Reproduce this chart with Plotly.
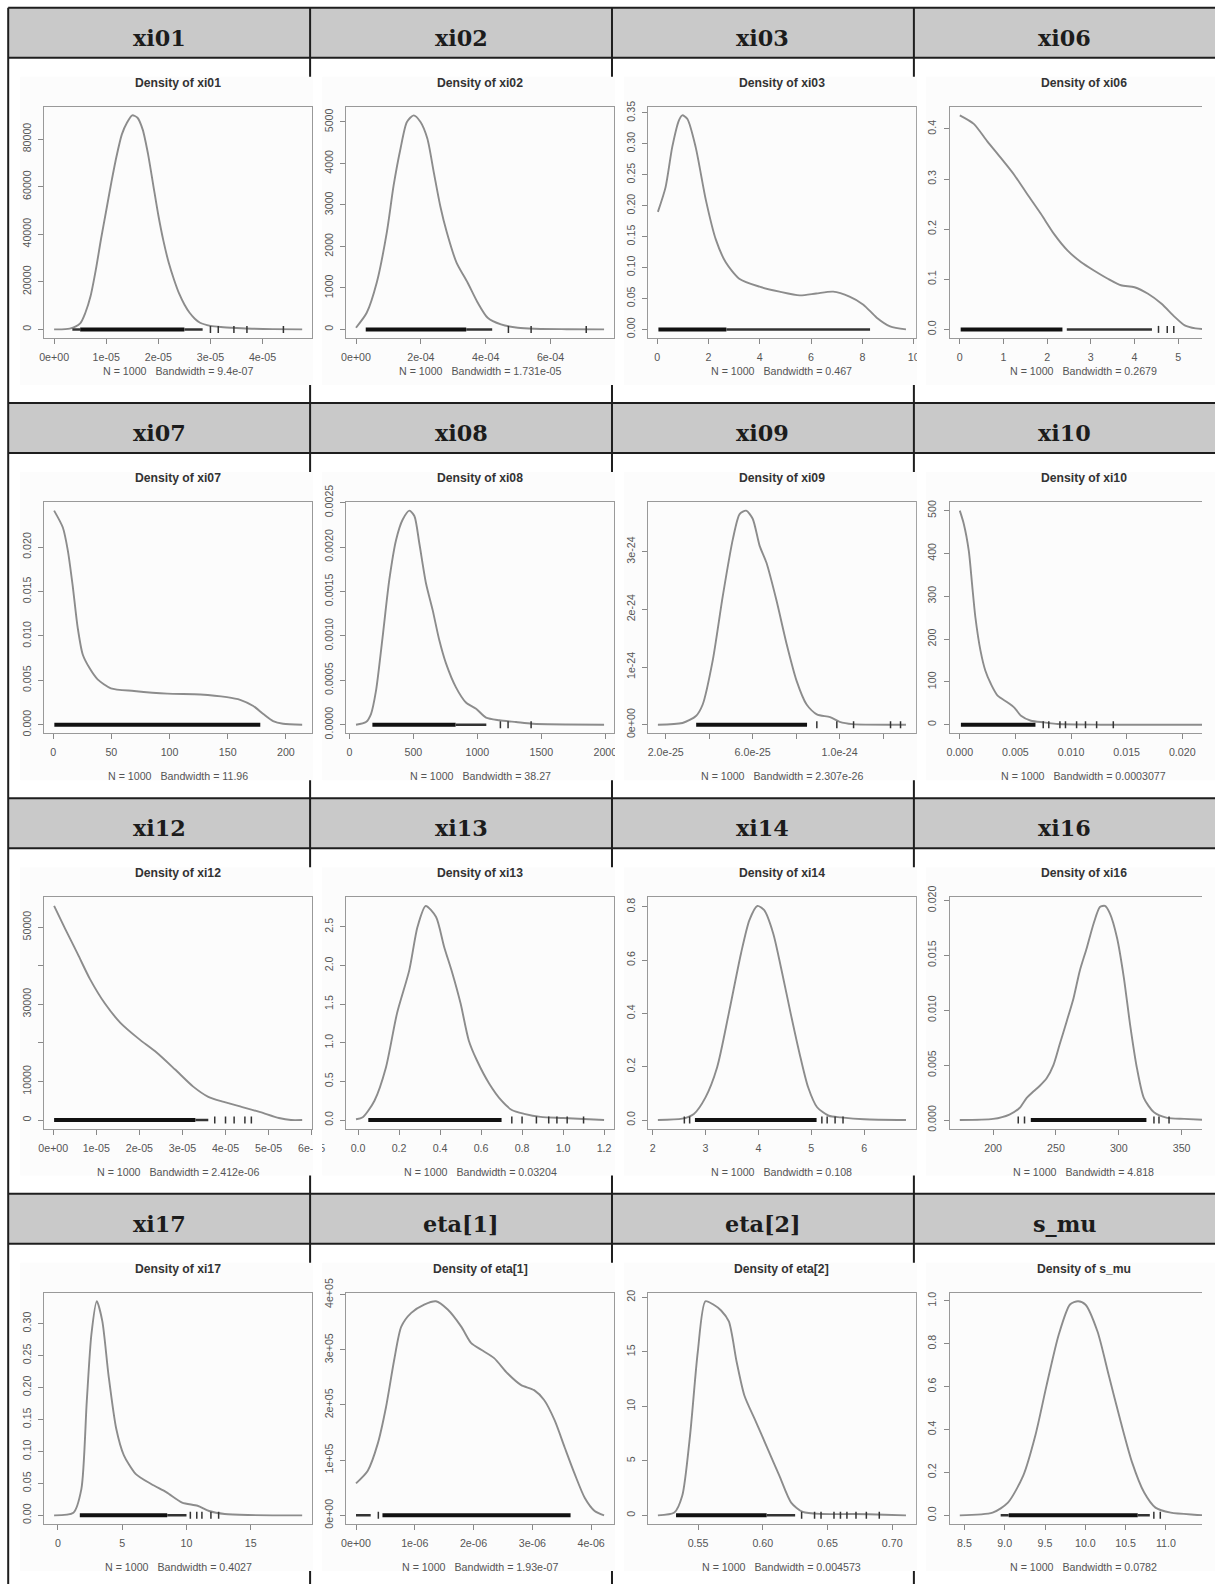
import plotly.graph_objects as go

# 4 x 4 table of R density plots (coda densplot style)
names = ["xi01", "xi02", "xi03", "xi06",
         "xi07", "xi08", "xi09", "xi10",
         "xi12", "xi13", "xi14", "xi16",
         "xi17", "eta[1]", "eta[2]", "s_mu"]

bandwidths = ["9.4e-07", "1.731e-05", "0.467", "0.2679",
              "11.96", "38.27", "2.307e-26", "0.0003077",
              "2.412e-06", "0.03204", "0.108", "4.818",
              "0.4027", "1.93e-07", "0.004573", "0.0782"]

# ---- xi01
xi01_x = [0.0, 3e-6, 5e-6, 6e-6, 7e-6, 8e-6, 9e-6, 1.0e-5, 1.1e-5, 1.2e-5, 1.3e-5, 1.4e-5, 1.5e-5, 1.6e-5,
          1.7e-5, 1.8e-5, 1.9e-5, 2.0e-5, 2.1e-5, 2.2e-5, 2.3e-5, 2.4e-5, 2.5e-5, 2.6e-5, 2.7e-5, 2.8e-5,
          3.0e-5, 3.2e-5, 3.5e-5, 3.8e-5, 4.2e-5, 4.76e-5]
xi01_y = [0, 300, 2500, 7000, 14000, 25000, 38000, 50000, 62000, 73000, 82000, 87000, 90000, 89000,
          84000, 74000, 61000, 48000, 37000, 28000, 21000, 15000, 10500, 7000, 4500, 2800,
          1500, 1000, 600, 300, 100, 0]
xi01_xticks = [0, 1e-5, 2e-5, 3e-5, 4e-5]
xi01_xlabels = ["0e+00", "1e-05", "2e-05", "3e-05", "4e-05"]
xi01_yticks = [0, 20000, 40000, 60000, 80000]
xi01_ylabels = ["0", "20000", "40000", "60000", "80000"]
xi01_band = [(5e-6, 2.5e-5)]
xi01_thin = [(3.5e-6, 5e-6), (2.5e-5, 2.85e-5)]
xi01_obs = [3.0e-5, 3.15e-5, 3.45e-5, 3.7e-5, 4.4e-5]

# ---- xi02
xi02_x = [0.0, 0.33e-4, 0.64e-4, 0.95e-4, 1.16e-4, 1.37e-4, 1.57e-4, 1.78e-4, 1.99e-4, 2.2e-4, 2.4e-4,
          2.6e-4, 2.8e-4, 3.1e-4, 3.44e-4, 3.75e-4, 4.06e-4, 4.47e-4, 4.99e-4, 5.5e-4, 6.5e-4, 7.65e-4]
xi02_y = [40, 400, 1130, 2340, 3470, 4350, 5000, 5160, 5000, 4600, 3780,
          2970, 2340, 1610, 1130, 650, 280, 120, 40, 15, 5, 0]
xi02_xticks = [0, 2e-4, 4e-4, 6e-4]
xi02_xlabels = ["0e+00", "2e-04", "4e-04", "6e-04"]
xi02_yticks = [0, 1000, 2000, 3000, 4000, 5000]
xi02_ylabels = ["0", "1000", "2000", "3000", "4000", "5000"]
xi02_band = [(0.3e-4, 3.4e-4)]
xi02_thin = [(3.4e-4, 4.2e-4)]
xi02_obs = [4.7e-4, 5.4e-4, 7.1e-4]

# ---- xi03
xi03_x = [0.03, 0.33, 0.59, 0.85, 0.98, 1.18, 1.5, 1.9, 2.29, 2.68, 3.2, 3.99, 4.77, 5.56, 6.2, 6.86,
          7.5, 8.04, 8.56, 9.08, 9.7]
xi03_y = [0.19, 0.23, 0.295, 0.338, 0.346, 0.34, 0.295, 0.209, 0.145, 0.108, 0.082, 0.069, 0.061, 0.055,
          0.058, 0.061, 0.053, 0.04, 0.019, 0.005, 0.0]
xi03_xticks = [0, 2, 4, 6, 8, 10]
xi03_xlabels = ["0", "2", "4", "6", "8", "10"]
xi03_yticks = [0, 0.05, 0.10, 0.15, 0.20, 0.25, 0.30, 0.35]
xi03_ylabels = ["0.00", "0.05", "0.10", "0.15", "0.20", "0.25", "0.30", "0.35"]
xi03_band = [(0.05, 2.7)]
xi03_thin = [(2.7, 8.3)]
xi03_obs = []

# ---- xi06
xi06_x = [0.0, 0.32, 0.63, 0.94, 1.24, 1.55, 1.86, 2.16, 2.47, 2.78, 3.08, 3.39, 3.69, 4.0, 4.31, 4.62,
          4.92, 5.15, 5.4, 5.68]
xi06_y = [0.427, 0.41, 0.375, 0.342, 0.309, 0.269, 0.23, 0.19, 0.157, 0.134, 0.117, 0.101, 0.088, 0.084,
          0.071, 0.051, 0.025, 0.008, 0.002, 0.0]
xi06_xticks = [0, 1, 2, 3, 4, 5]
xi06_xlabels = ["0", "1", "2", "3", "4", "5"]
xi06_yticks = [0, 0.1, 0.2, 0.3, 0.4]
xi06_ylabels = ["0.0", "0.1", "0.2", "0.3", "0.4"]
xi06_band = [(0.02, 2.35)]
xi06_thin = [(2.45, 4.4)]
xi06_obs = [4.55, 4.75, 4.9]

# ---- xi07
xi07_x = [0.8, 8.3, 12.6, 16.9, 21.1, 25.4, 31.1, 38.2, 49.6, 69.5, 98, 126.5, 149.3, 160.7, 172, 180.6,
          189, 197.6, 214]
xi07_y = [0.0241, 0.0222, 0.0196, 0.0155, 0.0109, 0.0079, 0.0064, 0.0051, 0.0041, 0.0038, 0.0035, 0.0034,
          0.0031, 0.0028, 0.0021, 0.0012, 0.0004, 0.0001, 0.0]
xi07_xticks = [0, 50, 100, 150, 200]
xi07_xlabels = ["0", "50", "100", "150", "200"]
xi07_yticks = [0, 0.005, 0.010, 0.015, 0.020]
xi07_ylabels = ["0.000", "0.005", "0.010", "0.015", "0.020"]
xi07_band = [(1, 178)]
xi07_thin = []
xi07_obs = []

# ---- xi08
xi08_x = [52, 130, 169, 208, 260, 312, 365, 417, 469, 508, 547, 599, 651, 703, 755, 833, 911, 990, 1068,
          1172, 1302, 1432, 1990]
xi08_y = [0, 0.00003, 0.00012, 0.00038, 0.00099, 0.00163, 0.00208, 0.00231, 0.00241, 0.00235, 0.00204,
          0.00159, 0.00129, 0.00095, 0.00069, 0.00042, 0.00025, 0.00018, 0.00008, 0.00005, 0.00003,
          0.00001, 0.0]
xi08_xticks = [0, 500, 1000, 1500, 2000]
xi08_xlabels = ["0", "500", "1000", "1500", "2000"]
xi08_yticks = [0, 0.0005, 0.0010, 0.0015, 0.0020, 0.0025]
xi08_ylabels = ["0.0000", "0.0005", "0.0010", "0.0015", "0.0020", "0.0025"]
xi08_band = [(180, 830)]
xi08_thin = [(830, 1070)]
xi08_obs = [1180, 1240, 1420]

# ---- xi09
xi09_x = [1.64e-25, 2.77e-25, 3.39e-25, 3.7e-25, 4.16e-25, 4.62e-25, 5.09e-25, 5.4e-25, 5.7e-25, 6.0e-25,
          6.32e-25, 6.63e-25, 7.09e-25, 7.56e-25, 8.02e-25, 8.48e-25, 8.95e-25, 9.56e-25, 1.0e-24,
          1.06e-24, 1.305e-24]
xi09_y = [0, 0.03e-24, 0.15e-24, 0.35e-24, 1.11e-24, 2.22e-24, 3.22e-24, 3.65e-24, 3.71e-24, 3.57e-24,
          3.1e-24, 2.81e-24, 2.16e-24, 1.4e-24, 0.76e-24, 0.35e-24, 0.18e-24, 0.13e-24, 0.05e-24,
          0.01e-24, 0]
xi09_xticks = [2e-25, 4e-25, 6e-25, 8e-25, 1e-24, 1.2e-24]
xi09_xlabels = ["2.0e-25", "", "6.0e-25", "", "1.0e-24", ""]
xi09_yticks = [0, 1e-24, 2e-24, 3e-24]
xi09_ylabels = ["0e+00", "1e-24", "2e-24", "3e-24"]
xi09_band = [(3.4e-25, 8.5e-25)]
xi09_thin = []
xi09_obs = [8.95e-25, 9.87e-25, 1.064e-24, 1.234e-24, 1.28e-24]

# ---- xi10
xi10_x = [0.0, 0.00036, 0.00081, 0.0011, 0.0014, 0.00186, 0.0023, 0.0028, 0.0034, 0.0043, 0.0049, 0.0055,
          0.0064, 0.0076, 0.0088, 0.0127, 0.0223]
xi10_y = [500, 469, 406, 329, 251, 173, 126, 95, 68, 52, 40, 21, 9.3, 5.5, 1.6, 0, 0]
xi10_xticks = [0, 0.005, 0.010, 0.015, 0.020]
xi10_xlabels = ["0.000", "0.005", "0.010", "0.015", "0.020"]
xi10_yticks = [0, 100, 200, 300, 400, 500]
xi10_ylabels = ["0", "100", "200", "300", "400", "500"]
xi10_band = [(0.0001, 0.0068)]
xi10_thin = []
xi10_obs = [0.0075, 0.008, 0.009, 0.0095, 0.0105, 0.0113, 0.0123, 0.0138]

# ---- xi12
xi12_x = [2e-7, 2.8e-6, 5.7e-6, 8.5e-6, 1.2e-5, 1.56e-5, 1.98e-5, 2.4e-5, 2.83e-5, 3.25e-5, 3.6e-5,
          3.96e-5, 4.39e-5, 4.81e-5, 5.24e-5, 5.52e-5, 5.78e-5]
xi12_y = [55500, 49500, 43000, 36600, 30200, 25200, 21100, 17500, 13090, 8660, 6010, 4690, 3360, 2030,
          530, 0, 0]
xi12_xticks = [0, 1e-5, 2e-5, 3e-5, 4e-5, 5e-5, 6e-5]
xi12_xlabels = ["0e+00", "1e-05", "2e-05", "3e-05", "4e-05", "5e-05", "6e-05"]
xi12_yticks = [0, 10000, 20000, 30000, 40000, 50000]
xi12_ylabels = ["0", "10000", "", "30000", "", "50000"]
xi12_band = [(2e-7, 3.3e-5)]
xi12_thin = [(3.3e-5, 3.6e-5)]
xi12_obs = [3.75e-5, 4.0e-5, 4.2e-5, 4.45e-5, 4.6e-5]

# ---- xi13
xi13_x = [-0.01, 0.023, 0.08, 0.136, 0.19, 0.25, 0.29, 0.33, 0.38, 0.42, 0.46, 0.5, 0.54, 0.58, 0.64,
          0.70, 0.75, 0.81, 0.89, 1.0, 1.1, 1.2]
xi13_y = [0.01, 0.035, 0.25, 0.68, 1.38, 1.94, 2.5, 2.77, 2.63, 2.24, 1.9, 1.51, 1.03, 0.77, 0.47, 0.25,
          0.13, 0.08, 0.04, 0.026, 0.013, 0.0]
xi13_xticks = [0, 0.2, 0.4, 0.6, 0.8, 1.0, 1.2]
xi13_xlabels = ["0.0", "0.2", "0.4", "0.6", "0.8", "1.0", "1.2"]
xi13_yticks = [0, 0.5, 1.0, 1.5, 2.0, 2.5]
xi13_ylabels = ["0.0", "0.5", "1.0", "1.5", "2.0", "2.5"]
xi13_band = [(0.05, 0.7)]
xi13_thin = []
xi13_obs = [0.75, 0.8, 0.87, 0.93, 0.97, 1.02, 1.1]

# ---- xi14
xi14_x = [2.1, 2.56, 2.78, 3.0, 3.22, 3.44, 3.67, 3.83, 3.98, 4.11, 4.28, 4.44, 4.61, 4.78, 4.94, 5.11,
          5.33, 5.56, 6.0, 6.79]
xi14_y = [0, 0.005, 0.023, 0.085, 0.198, 0.4, 0.624, 0.75, 0.803, 0.787, 0.7, 0.56, 0.4, 0.248, 0.123,
          0.048, 0.016, 0.01, 0.003, 0.0]
xi14_xticks = [2, 3, 4, 5, 6]
xi14_xlabels = ["2", "3", "4", "5", "6"]
xi14_yticks = [0, 0.2, 0.4, 0.6, 0.8]
xi14_ylabels = ["0.0", "0.2", "0.4", "0.6", "0.8"]
xi14_band = [(2.8, 5.1)]
xi14_thin = []
xi14_obs = [2.6, 2.7, 5.2, 5.3, 5.45, 5.6]

# ---- xi16
xi16_x = [173.5, 200, 213, 221, 226.6, 232, 237, 242.6, 248, 253, 258.6, 264, 269, 274.6, 280, 285, 289,
          293, 298.6, 304, 309, 314.5, 320, 328, 338.5, 352, 370.9]
xi16_y = [0, 0.0001, 0.0005, 0.0011, 0.002, 0.0026, 0.0031, 0.0038, 0.005, 0.0069, 0.009, 0.0111, 0.0136,
          0.0157, 0.0179, 0.0194, 0.0195, 0.0188, 0.0166, 0.013, 0.0087, 0.0047, 0.002, 0.0007, 0.0002,
          0.0001, 0]
xi16_xticks = [200, 250, 300, 350]
xi16_xlabels = ["200", "250", "300", "350"]
xi16_yticks = [0, 0.005, 0.010, 0.015, 0.020]
xi16_ylabels = ["0.000", "0.005", "0.010", "0.015", "0.020"]
xi16_band = [(230, 322)]
xi16_thin = []
xi16_obs = [220, 225, 328, 332, 340]

# ---- xi17
xi17_x = [-0.3, 1.2, 1.82, 2.24, 2.6, 3.02, 3.45, 3.93, 4.53, 5.13, 6.04, 7.25, 8.45, 9.66, 10.86, 11.76,
          12.97, 14.77, 19.0]
xi17_y = [0, 0.004, 0.041, 0.178, 0.283, 0.335, 0.304, 0.22, 0.136, 0.094, 0.065, 0.049, 0.036, 0.02,
          0.015, 0.0068, 0.0021, 0.0005, 0]
xi17_xticks = [0, 5, 10, 15]
xi17_xlabels = ["0", "5", "10", "15"]
xi17_yticks = [0, 0.05, 0.10, 0.15, 0.20, 0.25, 0.30]
xi17_ylabels = ["0.00", "0.05", "0.10", "0.15", "0.20", "0.25", "0.30"]
xi17_band = [(1.7, 8.5)]
xi17_thin = [(8.5, 10.0)]
xi17_obs = [10.3, 10.8, 11.2, 11.9, 12.5]

# ---- eta[1]
eta1_x = [0.0, 0.2e-6, 0.37e-6, 0.51e-6, 0.65e-6, 0.77e-6, 0.94e-6, 1.16e-6, 1.36e-6, 1.56e-6, 1.79e-6,
          1.96e-6, 2.13e-6, 2.35e-6, 2.58e-6, 2.81e-6, 3.03e-6, 3.2e-6, 3.38e-6, 3.55e-6, 3.72e-6,
          3.89e-6, 4.06e-6, 4.22e-6]
eta1_y = [0.58e5, 0.81e5, 1.3e5, 1.96e5, 2.82e5, 3.42e5, 3.67e5, 3.82e5, 3.88e5, 3.73e5, 3.42e5, 3.12e5,
          3.0e5, 2.85e5, 2.57e5, 2.36e5, 2.27e5, 2.09e5, 1.72e5, 1.23e5, 0.75e5, 0.32e5, 0.08e5, 0.0]
eta1_xticks = [0, 1e-6, 2e-6, 3e-6, 4e-6]
eta1_xlabels = ["0e+00", "1e-06", "2e-06", "3e-06", "4e-06"]
eta1_yticks = [0, 1e5, 2e5, 3e5, 4e5]
eta1_ylabels = ["0e+00", "1e+05", "2e+05", "3e+05", "4e+05"]
eta1_band = [(0.45e-6, 3.65e-6)]
eta1_thin = [(0.0, 0.25e-6)]
eta1_obs = [0.38e-6]

# ---- eta[2]
eta2_x = [0.519, 0.5317, 0.5378, 0.5438, 0.5498, 0.5557, 0.5618, 0.5678, 0.5738, 0.5798, 0.5858, 0.5948,
          0.6038, 0.6128, 0.6219, 0.6309, 0.6459, 0.67, 0.694, 0.7106]
eta2_y = [0, 0.25, 1.79, 7.3, 15.0, 19.65, 19.35, 18.8, 17.8, 14.1, 11.0, 8.56, 6.1, 3.64, 1.17, 0.31,
          0.12, 0.12, 0.06, 0]
eta2_xticks = [0.55, 0.60, 0.65, 0.70]
eta2_xlabels = ["0.55", "0.60", "0.65", "0.70"]
eta2_yticks = [0, 5, 10, 15, 20]
eta2_ylabels = ["0", "5", "10", "15", "20"]
eta2_band = [(0.533, 0.603)]
eta2_thin = [(0.603, 0.625)]
eta2_obs = [0.63, 0.64, 0.645, 0.655, 0.66, 0.665, 0.672, 0.68, 0.69]

# ---- s_mu
smu_x = [8.443, 8.85, 9.04, 9.23, 9.38, 9.52, 9.67, 9.81, 9.91, 10.0, 10.15, 10.29, 10.44, 10.58, 10.73,
         10.87, 11.06, 11.35, 11.52]
smu_y = [0, 0.0125, 0.059, 0.185, 0.372, 0.607, 0.842, 0.983, 0.998, 0.983, 0.858, 0.654, 0.435, 0.247,
         0.106, 0.036, 0.0125, 0.003, 0]
smu_xticks = [8.5, 9.0, 9.5, 10.0, 10.5, 11.0, 11.5]
smu_xlabels = ["8.5", "9.0", "9.5", "10.0", "10.5", "11.0", "11.5"]
smu_yticks = [0, 0.2, 0.4, 0.6, 0.8, 1.0]
smu_ylabels = ["0.0", "0.2", "0.4", "0.6", "0.8", "1.0"]
smu_band = [(9.05, 10.65)]
smu_thin = [(8.95, 9.05), (10.65, 10.8)]
smu_obs = [10.85, 10.93]


def panel(x, y, xt, xl, yt, yl, band, thin, obs):
    return dict(x=x, y=y, xt=xt, xl=xl, yt=yt, yl=yl, band=band, thin=thin, obs=obs)


panels = [
    panel(xi01_x, xi01_y, xi01_xticks, xi01_xlabels, xi01_yticks, xi01_ylabels, xi01_band, xi01_thin, xi01_obs),
    panel(xi02_x, xi02_y, xi02_xticks, xi02_xlabels, xi02_yticks, xi02_ylabels, xi02_band, xi02_thin, xi02_obs),
    panel(xi03_x, xi03_y, xi03_xticks, xi03_xlabels, xi03_yticks, xi03_ylabels, xi03_band, xi03_thin, xi03_obs),
    panel(xi06_x, xi06_y, xi06_xticks, xi06_xlabels, xi06_yticks, xi06_ylabels, xi06_band, xi06_thin, xi06_obs),
    panel(xi07_x, xi07_y, xi07_xticks, xi07_xlabels, xi07_yticks, xi07_ylabels, xi07_band, xi07_thin, xi07_obs),
    panel(xi08_x, xi08_y, xi08_xticks, xi08_xlabels, xi08_yticks, xi08_ylabels, xi08_band, xi08_thin, xi08_obs),
    panel(xi09_x, xi09_y, xi09_xticks, xi09_xlabels, xi09_yticks, xi09_ylabels, xi09_band, xi09_thin, xi09_obs),
    panel(xi10_x, xi10_y, xi10_xticks, xi10_xlabels, xi10_yticks, xi10_ylabels, xi10_band, xi10_thin, xi10_obs),
    panel(xi12_x, xi12_y, xi12_xticks, xi12_xlabels, xi12_yticks, xi12_ylabels, xi12_band, xi12_thin, xi12_obs),
    panel(xi13_x, xi13_y, xi13_xticks, xi13_xlabels, xi13_yticks, xi13_ylabels, xi13_band, xi13_thin, xi13_obs),
    panel(xi14_x, xi14_y, xi14_xticks, xi14_xlabels, xi14_yticks, xi14_ylabels, xi14_band, xi14_thin, xi14_obs),
    panel(xi16_x, xi16_y, xi16_xticks, xi16_xlabels, xi16_yticks, xi16_ylabels, xi16_band, xi16_thin, xi16_obs),
    panel(xi17_x, xi17_y, xi17_xticks, xi17_xlabels, xi17_yticks, xi17_ylabels, xi17_band, xi17_thin, xi17_obs),
    panel(eta1_x, eta1_y, eta1_xticks, eta1_xlabels, eta1_yticks, eta1_ylabels, eta1_band, eta1_thin, eta1_obs),
    panel(eta2_x, eta2_y, eta2_xticks, eta2_xlabels, eta2_yticks, eta2_ylabels, eta2_band, eta2_thin, eta2_obs),
    panel(smu_x, smu_y, smu_xticks, smu_xlabels, smu_yticks, smu_ylabels, smu_band, smu_thin, smu_obs),
]

# figure size and the table layout in window pixels
W, H = 1215, 1584
X0, Y0 = 8, 8          # table top-left
COLW, ROWH = 302, 395  # column width, row pitch (header + image cell)
HEAD = 50              # header band height
BORDER = "#1e1e1e"
NBSP = "\u00a0"

# the page shows the figure slightly shrunk and shifted; window -> figure pixels
K = 0.9847
SHIFT_X, SHIFT_Y = 5.8, 17.3


def fx(v):
    return (v - SHIFT_X) / K


def fy(v):
    return (v - SHIFT_Y) / K


def px(v):
    return fx(v) / W


def py(v):
    return 1 - fy(v) / H


def fs(size):
    return size / K


def segs(pairs):
    xs, ys = [], []
    for a, b in pairs:
        xs += [a, b, None]
        ys += [0, 0, None]
    return xs, ys


fig = go.Figure()
shapes = []
annotations = []
tick_font = dict(family="Liberation Sans, Arial", size=fs(10.5), color="#555555")

# header bands and table lines (drawn below the plots)
for r in range(4):
    T = Y0 + ROWH * r
    shapes.append(dict(type="rect", xref="paper", yref="paper", layer="below",
                       x0=px(X0), x1=px(X0 + 4 * COLW), y0=py(T), y1=py(T + HEAD),
                       fillcolor="#c9c9c9", line=dict(width=0)))
for c in range(1, 4):
    xl = X0 + COLW * c
    shapes.append(dict(type="line", xref="paper", yref="paper", layer="below",
                       x0=px(xl), x1=px(xl), y0=py(Y0), y1=py(H + 30),
                       line=dict(color=BORDER, width=2)))
shapes.append(dict(type="line", xref="paper", yref="paper", layer="below",
                   x0=px(X0), x1=px(X0), y0=py(Y0), y1=py(H + 30),
                   line=dict(color=BORDER, width=2)))
for r in range(4):
    T = Y0 + ROWH * r
    for yy in (T, T + HEAD):
        shapes.append(dict(type="line", xref="paper", yref="paper", layer="below",
                           x0=px(X0), x1=px(X0 + 4 * COLW + 2), y0=py(yy), y1=py(yy),
                           line=dict(color=BORDER, width=2)))

for i, p in enumerate(panels):
    r, c = divmod(i, 4)
    L = X0 + COLW * c
    T = Y0 + ROWH * r
    n = "" if i == 0 else str(i + 1)

    # embedded picture background (hides cell divider behind it)
    shapes.append(dict(type="rect", xref="paper", yref="paper", layer="below",
                       x0=px(L + 12), x1=px(L + 305), y0=py(T + 69), y1=py(T + 377),
                       fillcolor="#fcfcfc", line=dict(width=0)))
    if c < 3:
        # gap between pictures clips overflowing tick labels
        shapes.append(dict(type="rect", xref="paper", yref="paper", layer="above",
                           x0=px(L + 305), x1=px(L + 314), y0=py(T + 69), y1=py(T + 377),
                           fillcolor="white", line=dict(width=0)))

    # R style 4% range extension
    xmin, xmax = min(p["x"]), max(p["x"])
    ymax = max(p["y"])
    dx = (xmax - xmin) * 0.04
    xr = [xmin - dx, xmax + dx]
    yr = [-0.04 * ymax, 1.04 * ymax]

    # plot box in figure pixels; the last column runs past the figure edge
    bx0, bx1 = fx(L + 36), fx(L + 304)
    right_cut = bx1 > W
    if right_cut:
        xr = [xr[0], xr[0] + (W - bx0) / (bx1 - bx0) * (xr[1] - xr[0])]
        bx1 = W

    fig.add_trace(go.Scatter(x=p["x"], y=p["y"], mode="lines",
                             line=dict(color="#8c8c8c", width=1.9, shape="spline", smoothing=0.7),
                             xaxis="x" + n, yaxis="y" + n, hoverinfo="skip"))
    sx, sy = segs(p["band"])
    fig.add_trace(go.Scatter(x=sx, y=sy, mode="lines", line=dict(color="#111111", width=4),
                             xaxis="x" + n, yaxis="y" + n, hoverinfo="skip"))
    if p["thin"]:
        tx, ty = segs(p["thin"])
        fig.add_trace(go.Scatter(x=tx, y=ty, mode="lines", line=dict(color="#333333", width=2.5),
                                 xaxis="x" + n, yaxis="y" + n, hoverinfo="skip"))
    if p["obs"]:
        fig.add_trace(go.Scatter(x=p["obs"], y=[0] * len(p["obs"]), mode="markers",
                                 marker=dict(symbol="line-ns", size=5, line=dict(color="#333333", width=1.5)),
                                 xaxis="x" + n, yaxis="y" + n, hoverinfo="skip"))

    fig.update_layout(**{
        "xaxis" + n: dict(domain=[bx0 / W, min(bx1 / W, 1.0)], anchor="y" + n, range=xr,
                          tickmode="array", tickvals=p["xt"], ticktext=p["xl"],
                          ticks="outside", ticklen=5, tickcolor="#888888", tickwidth=1,
                          showline=True, mirror=True, linecolor="#999999", linewidth=1.3,
                          showgrid=False, zeroline=False, tickfont=tick_font,
                          ticklabelstandoff=4, fixedrange=True),
        "yaxis" + n: dict(domain=[py(T + 330), py(T + 99)], anchor="x" + n, range=yr,
                          tickmode="array", tickvals=p["yt"], ticktext=p["yl"],
                          ticks="outside", ticklen=5, tickcolor="#888888", tickwidth=1,
                          showline=True, mirror=not right_cut, linecolor="#999999", linewidth=1.3,
                          showgrid=False, zeroline=False, tickfont=tick_font, tickangle=-90,
                          ticklabelstandoff=3, fixedrange=True),
    })

    # header cell label
    annotations.append(dict(xref="paper", yref="paper", x=px(L + COLW / 2), y=py(T + 30),
                            text="<b>" + names[i] + "</b>", showarrow=False,
                            xanchor="center", yanchor="middle",
                            font=dict(family="DejaVu Serif", size=fs(22), color="#1c1c1c")))
    # plot title and subtitle, centred on the full plot box
    annotations.append(dict(xref="paper", yref="paper", x=px(L + 170), y=py(T + 75),
                            text="<b>Density of " + names[i] + "</b>", showarrow=False,
                            xanchor="center", yanchor="middle",
                            font=dict(family="Liberation Sans, Arial", size=fs(12), color="#333333")))
    sub_y = T + 363 if r == 0 else T + 373
    annotations.append(dict(xref="paper", yref="paper", x=px(L + 170), y=py(sub_y),
                            text="N = 1000" + NBSP * 3 + "Bandwidth = " + bandwidths[i], showarrow=False,
                            xanchor="center", yanchor="middle",
                            font=dict(family="Liberation Sans, Arial", size=fs(10.5), color="#555555")))

fig.update_layout(width=W, height=H, margin=dict(l=0, r=0, t=0, b=0),
                  paper_bgcolor="white", plot_bgcolor="rgba(0,0,0,0)",
                  showlegend=False, shapes=shapes, annotations=annotations)

pin = ("document.body.style.margin='0';"
       "var d=document.querySelector('.plotly-graph-div');"
       "if(d){var s=d.querySelector('.main-svg');"
       "if(s){var b=s.getBoundingClientRect();"
       "d.style.marginTop=(-b.top)+'px';d.style.marginLeft=(-b.left)+'px';}}")
fig.write_html("out.html", config={"displayModeBar": False}, post_script=pin)
